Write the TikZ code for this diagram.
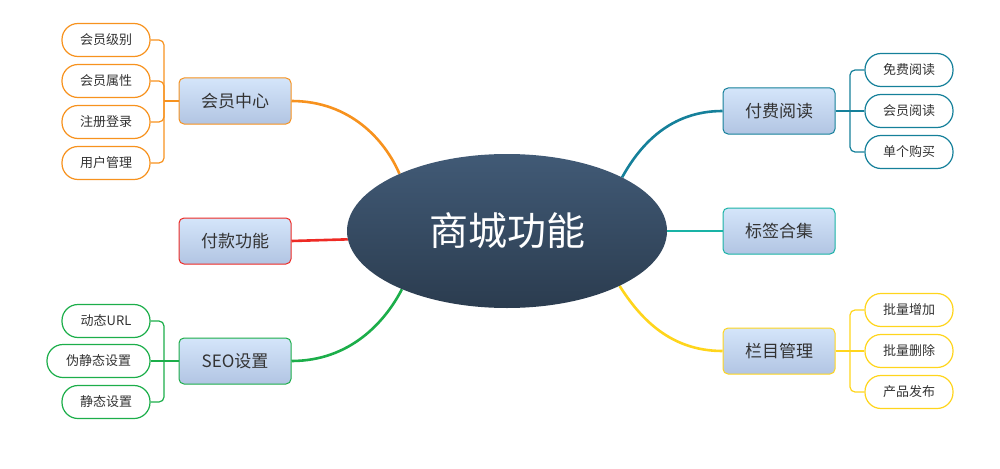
\documentclass[tikz,border=0pt]{standalone}
\usepackage{fontspec}
\setmainfont{Noto Sans CJK SC}
\usetikzlibrary{shapes.geometric}
\definecolor{cOr}{HTML}{F7921E}
\definecolor{cRd}{HTML}{EE2A24}
\definecolor{cGr}{HTML}{1CAE4A}
\definecolor{cBl}{HTML}{15809A}
\definecolor{cTl}{HTML}{19B3A6}
\definecolor{cYl}{HTML}{FFD51C}
\definecolor{boxtop}{HTML}{D4E5FA}
\definecolor{boxbot}{HTML}{B2C5E3}
\definecolor{elltop}{HTML}{415A76}
\definecolor{ellbot}{HTML}{2B3C4F}
\definecolor{txt}{HTML}{333333}
\pgfdeclarelayer{bg}
\pgfsetlayers{bg,main}
\begin{document}
\begin{tikzpicture}[x=1pt,y=-1pt,
  mainbox/.style={draw=#1, line width=1pt, rounded corners=5pt, top color=boxtop, bottom color=boxbot,
    minimum width=112pt, minimum height=46pt, inner sep=0pt, font=\fontsize{17}{20}\selectfont, text=txt},
  leaf/.style={draw=#1, line width=1.2pt, rounded corners=16pt, fill=white,
    minimum width=88pt, minimum height=33pt, inner sep=0pt, font=\fontsize{13}{15}\selectfont, text=txt},
  branch/.style={draw=#1, line width=2.6pt},
  twig/.style={draw=#1, line width=1.2pt, rounded corners=5pt}]
\useasboundingbox (0,0) rectangle (1000,468);

% centre
\node[ellipse, minimum width=320pt, minimum height=154pt, inner sep=0pt,
  top color=elltop, bottom color=ellbot, text=white, font=\fontsize{39}{44}\selectfont] (ctr) at (507,231) {商城功能};

% main boxes
\node[mainbox=cOr] (hy) at (235,101) {会员中心};
\node[mainbox=cRd] (fk) at (235,241) {付款功能};
\node[mainbox=cGr] (seo) at (235,361) {SEO设置};
\node[mainbox=cBl] (ff) at (779,111) {付费阅读};
\node[mainbox=cTl] (bq) at (779,231) {标签合集};
\node[mainbox=cYl] (lm) at (779,351) {栏目管理};

% leaves left
\node[leaf=cOr] (a1) at (106,40) {会员级别};
\node[leaf=cOr] (a2) at (106,81) {会员属性};
\node[leaf=cOr] (a3) at (106,122) {注册登录};
\node[leaf=cOr] (a4) at (106,163) {用户管理};
\node[leaf=cGr] (s1) at (106,321) {动态URL};
\node[leaf=cGr, minimum width=103pt] (s2) at (98.5,361) {伪静态设置};
\node[leaf=cGr] (s3) at (106,402) {静态设置};
% leaves right
\node[leaf=cBl] (b1) at (909,70) {免费阅读};
\node[leaf=cBl] (b2) at (909,111) {会员阅读};
\node[leaf=cBl] (b3) at (909,152) {单个购买};
\node[leaf=cYl] (y1) at (909,310) {批量增加};
\node[leaf=cYl] (y2) at (909,351) {批量删除};
\node[leaf=cYl] (y3) at (909,392) {产品发布};

\coordinate (ja) at (164,101);
\coordinate (js) at (164,361);
\coordinate (jb) at (850,111);
\coordinate (jy) at (850,351);

\begin{pgfonlayer}{bg}
\draw[branch=cOr] (hy.east) .. controls (350,101) and (385,140) .. (ctr.152);
\draw[branch=cRd] (fk.east) -- (ctr.183);
\draw[branch=cGr] (seo.east) .. controls (350,361) and (385,322) .. (ctr.209);
\draw[branch=cBl] (ff.west) .. controls (670,111) and (640,145) .. (ctr.25);
\draw[branch=cTl] (bq.west) -- (ctr.east);
\draw[branch=cYl] (lm.west) .. controls (670,351) and (640,318) .. (ctr.334);
\end{pgfonlayer}

% twigs
\foreach \n in {a1,a2,a3,a4} \draw[twig=cOr] (\n.east) -| (ja);
\draw[twig=cOr] (ja) -- (hy.west);
\foreach \n in {s1,s3} \draw[twig=cGr] (\n.east) -| (js);
\draw[twig=cGr] (s2.east) -- (seo.west);
\foreach \n in {b1,b3} \draw[twig=cBl] (jb) |- (\n.west);
\draw[twig=cBl] (ff.east) -- (b2.west);
\foreach \n in {y1,y3} \draw[twig=cYl] (jy) |- (\n.west);
\draw[twig=cYl] (lm.east) -- (y2.west);
\end{tikzpicture}
\end{document}
